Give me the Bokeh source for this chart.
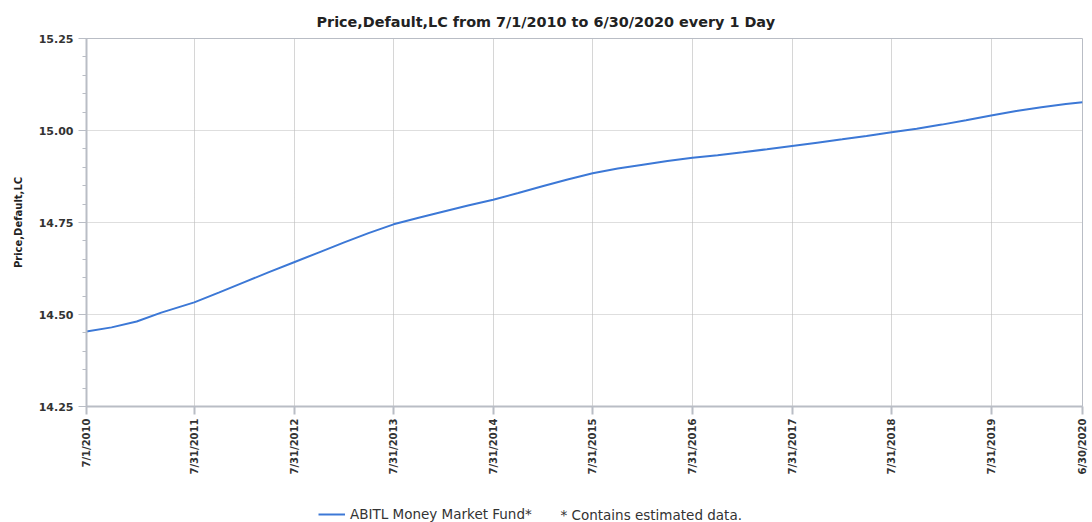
import pandas as pd
from bokeh.plotting import figure
from bokeh.layouts import column
from bokeh.models import (ColumnDataSource, FixedTicker, Legend, LegendItem, Label, Range1d)
from bokeh.embed import file_html
from bokeh.resources import INLINE

# ---- data ----
dates = ["2010-07-01", "2010-10-01", "2011-01-01", "2011-04-01", "2011-07-31",
         "2011-10-31", "2012-01-31", "2012-04-30", "2012-07-31", "2012-10-31",
         "2013-01-31", "2013-04-30", "2013-07-31", "2013-10-31", "2014-01-31",
         "2014-04-30", "2014-07-31", "2014-10-31", "2015-01-31", "2015-04-30",
         "2015-07-31", "2015-10-31", "2016-01-31", "2016-04-30", "2016-07-31",
         "2016-10-31", "2017-01-31", "2017-04-30", "2017-07-31", "2017-10-31",
         "2018-01-31", "2018-04-30", "2018-07-31", "2018-10-31", "2019-01-31",
         "2019-04-30", "2019-07-31", "2019-10-31", "2020-01-31", "2020-04-30",
         "2020-06-30"]
prices = [14.454, 14.465, 14.481, 14.505, 14.533,
          14.560, 14.588, 14.615, 14.642, 14.669,
          14.696, 14.721, 14.745, 14.763, 14.780,
          14.796, 14.812, 14.830, 14.849, 14.867,
          14.884, 14.897, 14.907, 14.917, 14.926,
          14.933, 14.941, 14.949, 14.958, 14.967,
          14.976, 14.985, 14.995, 15.005, 15.016,
          15.028, 15.041, 15.053, 15.063, 15.072,
          15.077]
tick_dates = ["2010-07-01", "2011-07-31", "2012-07-31", "2013-07-31", "2014-07-31",
              "2015-07-31", "2016-07-31", "2017-07-31", "2018-07-31", "2019-07-31",
              "2020-06-30"]
tick_labels = ["7/1/2010", "7/31/2011", "7/31/2012", "7/31/2013", "7/31/2014",
               "7/31/2015", "7/31/2016", "7/31/2017", "7/31/2018", "7/31/2019",
               "6/30/2020"]
y_ticks = [14.25, 14.50, 14.75, 15.00, 15.25]
y_tick_labels = ["14.25", "14.50", "14.75", "15.00", "15.25"]
y_minor = [14.25 + 0.05 * i for i in range(21)]
series_name = "ABITL Money Market Fund*"
note = "*  Contains estimated data."
title_text = "Price,Default,LC from 7/1/2010 to 6/30/2020 every 1 Day"
y_title = "Price,Default,LC"

# ---- main figure ----
src = ColumnDataSource(dict(x=pd.to_datetime(dates), y=prices))
tick_ms = [pd.Timestamp(d).value / 1e6 for d in tick_dates]

FONT = "DejaVu Sans"
TXT = "#333333"
GREY = "#b9bdc5"
LINE = "#3c78d6"
LEFT, RIGHT = 86, 10

p = figure(width=1092, height=504, x_axis_type="datetime",
           output_backend="svg", toolbar_location=None,
           min_border_left=LEFT, min_border_right=RIGHT, min_border_top=38, min_border_bottom=98,
           x_range=Range1d(tick_ms[0], tick_ms[-1]), y_range=Range1d(14.25, 15.25))

p.title.text = title_text
p.title.align = "left"
p.title.offset = 230
p.title.text_font = FONT
p.title.text_font_size = "14.4px"
p.title.text_font_style = "bold"
p.title.text_color = "#222222"
p.title.standoff = 18

p.outline_line_color = GREY
p.outline_line_width = 1
p.background_fill_color = "white"
p.border_fill_color = "white"

line = p.line("x", "y", source=src, line_color=LINE, line_width=2)

# x axis
xa = p.xaxis[0]
xa.ticker = FixedTicker(ticks=tick_ms, minor_ticks=[])
xa.major_label_overrides = {t: l for t, l in zip(tick_ms, tick_labels)}
xa.major_label_orientation = 1.5707963
xa.major_label_text_font = FONT
xa.major_label_text_font_size = "10px"
xa.major_label_text_font_style = "bold"
xa.major_label_text_color = TXT
xa.major_label_standoff = 4
xa.major_tick_out = 8
xa.major_tick_in = 0
xa.minor_tick_out = 0
xa.axis_line_color = GREY
xa.axis_line_width = 2
xa.major_tick_line_color = GREY
xa.major_tick_line_width = 2

# y axis
ya = p.yaxis[0]
ya.ticker = FixedTicker(ticks=y_ticks, minor_ticks=y_minor)
ya.major_label_overrides = {t: l for t, l in zip(y_ticks, y_tick_labels)}
ya.major_label_text_font = FONT
ya.major_label_text_font_size = "11px"
ya.major_label_text_font_style = "bold"
ya.major_label_text_color = TXT
ya.major_label_standoff = 5
ya.major_tick_out = 8
ya.major_tick_in = 0
ya.minor_tick_out = 4
ya.minor_tick_in = 0
ya.axis_line_color = GREY
ya.axis_line_width = 2
ya.major_tick_line_color = GREY
ya.minor_tick_line_color = GREY
ya.axis_label = y_title
ya.axis_label_text_font = FONT
ya.axis_label_text_font_size = "10px"
ya.axis_label_text_font_style = "bold"
ya.axis_label_text_color = "#222222"
ya.axis_label_standoff = 12

# grids
p.xgrid[0].grid_line_color = "#acacac"
p.ygrid[0].grid_line_color = "#bdbdbd"
for g in (p.xgrid[0], p.ygrid[0]):
    g.grid_line_dash = "1 1"
    g.grid_line_width = 1

# ---- legend strip below (frame aligned with the main frame) ----
strip_w = 1092 - LEFT - RIGHT
p2 = figure(width=1092, height=18, output_backend="svg", toolbar_location=None,
            x_axis_location=None, y_axis_location=None,
            min_border_left=LEFT, min_border_right=RIGHT, min_border_top=0, min_border_bottom=0,
            x_range=Range1d(0, strip_w), y_range=Range1d(0, 18))
p2.grid.visible = False
p2.outline_line_color = None
p2.background_fill_color = "white"
p2.border_fill_color = "white"
key = p2.line(x=[float("nan")], y=[float("nan")], line_color=LINE, line_width=2)

leg = Legend(items=[LegendItem(label=series_name, renderers=[key])],
             location=(318 - LEFT, 0), orientation="horizontal",
             padding=0, margin=0, spacing=0, glyph_width=27, glyph_height=16,
             label_height=16, label_standoff=5,
             label_text_font=FONT, label_text_font_size="13.5px", label_text_color=TXT,
             border_line_alpha=0, background_fill_alpha=0)
p2.add_layout(leg, "center")

p2.add_layout(Label(x=560 - LEFT, y=8, text=note,
                    text_font=FONT, text_font_size="13.5px", text_color=TXT,
                    text_baseline="middle"))

layout = column(p, p2, spacing=0)
open("out.html", "w").write(file_html(layout, INLINE))
